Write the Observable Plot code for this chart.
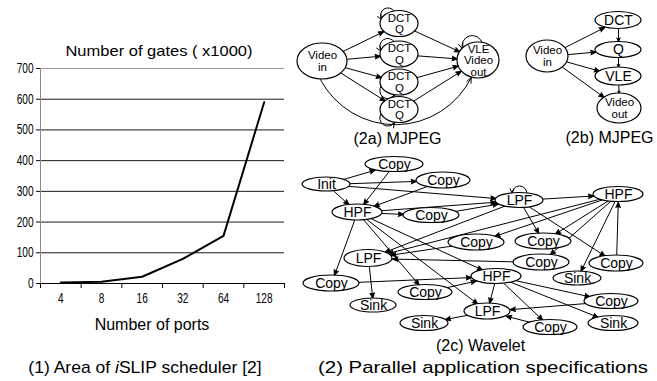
<!DOCTYPE html>
<html>
<head>
<meta charset="utf-8">
<script src="https://cdn.jsdelivr.net/npm/d3@7"></script>
<script src="https://cdn.jsdelivr.net/npm/@observablehq/plot@0.6"></script>
<style>
  html, body { margin: 0; padding: 0; background: #fff; }
  #page { position: relative; width: 657px; height: 381px; overflow: hidden; background: #fff;
          font-family: "Liberation Sans", Arial, Helvetica, sans-serif; color: #000; }
  .lbl { position: absolute; white-space: nowrap; line-height: 1; }
</style>
</head>
<body>
<div id="page"></div>
<script>
// ---------------- Chart (1): area of iSLIP scheduler ----------------
const ports = ["4", "8", "16", "32", "64", "128"];
const gates = [3, 6, 22, 80, 155, 590];           // thousands of gates
const gateTicks = [0, 100, 200, 300, 400, 500, 600, 700];

// ---------------- Diagram (2a) MJPEG ----------------
const mjpegANodes = [
  {id: "vin", label: "Video\nin", x: 322, y: 61, rx: 25, ry: 18},
  {id: "dq1", label: "DCT\nQ", x: 399, y: 23.5, rx: 19, ry: 13},
  {id: "dq2", label: "DCT\nQ", x: 399, y: 54, rx: 19, ry: 13},
  {id: "dq3", label: "DCT\nQ", x: 399, y: 82, rx: 19, ry: 13},
  {id: "dq4", label: "DCT\nQ", x: 399, y: 109.5, rx: 19, ry: 13},
  {id: "vle", label: "VLE\nVideo\nout", x: 478, y: 60, rx: 21, ry: 18}
];
const mjpegAEdges = [
  ["vin", "dq1"], ["vin", "dq2"], ["vin", "dq3"], ["vin", "dq4"],
  ["dq1", "vle"], ["dq2", "vle"], ["dq3", "vle"], ["dq4", "vle"]
];
const mjpegALoops = [["dq1", -105, 200], ["dq2", -105, 195], ["dq3", 165, 105], ["dq4", 165, 105], ["vle", -80, -140]];
const mjpegACurves = [["vin", 95, "vle", 110, -63]];

// ---------------- Diagram (2b) MJPEG ----------------
const mjpegBNodes = [
  {id: "vin", label: "Video\nin", x: 547, y: 56, rx: 21, ry: 16},
  {id: "dct", label: "DCT", x: 618, y: 20, rx: 23, ry: 8.5},
  {id: "q", label: "Q", x: 618, y: 49.5, rx: 23, ry: 8},
  {id: "vle", label: "VLE", x: 618, y: 76, rx: 23, ry: 9},
  {id: "vout", label: "Video\nout", x: 619, y: 108, rx: 22, ry: 15}
];
const mjpegBEdges = [
  ["vin", "dct"], ["vin", "q"], ["vin", "vle"], ["vin", "vout"],
  ["dct", "q"], ["q", "vle"], ["vle", "vout"]
];

// ---------------- Diagram (2c) Wavelet ----------------
const waveletNodes = [
  {id: "init", label: "Init", x: 326, y: 184, rx: 24, ry: 7},
  {id: "c1", label: "Copy", x: 394, y: 164, rx: 29, ry: 7.5},
  {id: "c2", label: "Copy", x: 443, y: 180, rx: 27, ry: 8},
  {id: "hpf1", label: "HPF", x: 357, y: 212, rx: 25, ry: 8},
  {id: "c3", label: "Copy", x: 431, y: 215, rx: 28, ry: 7.5},
  {id: "lpf1", label: "LPF", x: 519, y: 200, rx: 24, ry: 7.5},
  {id: "hpf2", label: "HPF", x: 618, y: 194, rx: 25, ry: 7.5},
  {id: "c4", label: "Copy", x: 476, y: 242, rx: 28, ry: 8},
  {id: "c5", label: "Copy", x: 543, y: 241, rx: 28, ry: 8},
  {id: "lpf2", label: "LPF", x: 368, y: 258, rx: 24, ry: 8.5},
  {id: "c6", label: "Copy", x: 541, y: 262, rx: 28, ry: 8},
  {id: "c7", label: "Copy", x: 616, y: 263, rx: 27, ry: 8},
  {id: "sink1", label: "Sink", x: 577, y: 278, rx: 24, ry: 7},
  {id: "c8", label: "Copy", x: 331, y: 283, rx: 28, ry: 8},
  {id: "hpf3", label: "HPF", x: 496, y: 276, rx: 25, ry: 7.5},
  {id: "c9", label: "Copy", x: 425, y: 292, rx: 27, ry: 7.5},
  {id: "sink2", label: "Sink", x: 373, y: 305, rx: 23, ry: 7},
  {id: "c10", label: "Copy", x: 611, y: 301, rx: 27, ry: 7.5},
  {id: "lpf3", label: "LPF", x: 487, y: 311, rx: 23, ry: 8},
  {id: "sink3", label: "Sink", x: 424, y: 323, rx: 24, ry: 7.5},
  {id: "c11", label: "Copy", x: 550, y: 327, rx: 27, ry: 7.5},
  {id: "sink4", label: "Sink", x: 613, y: 323, rx: 25, ry: 7.5}
];
const waveletEdges = [
  ["init", "c1"], ["init", "c2"], ["init", "lpf1"], ["init", "hpf1"],
  ["c1", "hpf1"], ["c2", "hpf1"],
  ["hpf1", "c3"], ["hpf1", "lpf1"], ["c3", "lpf1"],
  ["hpf1", "c8"], ["hpf1", "c9"], ["hpf1", "hpf3"], ["hpf1", "lpf3"],
  ["lpf1", "hpf2"], ["lpf1", "c5"], ["lpf1", "c7"], ["lpf1", "lpf2"],
  ["hpf2", "c4"], ["hpf2", "c5"], ["hpf2", "c6"], ["hpf2", "sink1"], ["hpf2", "lpf2"],
  ["c7", "hpf2"], ["c4", "lpf2"], ["c6", "lpf2"], ["lpf2", "sink2"],
  ["c8", "hpf3"], ["c9", "hpf3"],
  ["hpf3", "lpf3"], ["hpf3", "c10"], ["hpf3", "sink4"], ["hpf3", "c11"],
  ["c10", "lpf3"], ["c11", "lpf3"], ["lpf3", "sink3"]
];
const waveletLoops = [["lpf1", -72, -108]];

// ---------------- Captions ----------------
const diagramCaptions = [
  {text: "(2a) MJPEG", x: 397, y: 138},
  {text: "(2b) MJPEG", x: 609, y: 137},
  {text: "(2c) Wavelet", x: 480, y: 345}
];

// ================= rendering =================
const FONT = '"Liberation Sans", Arial, Helvetica, sans-serif';
const page = document.getElementById("page");

function addLabel(text, cx, cy, size, sx, html) {
  const d = document.createElement("div");
  d.className = "lbl";
  if (html) d.innerHTML = text; else d.textContent = text;
  d.style.left = cx + "px";
  d.style.top = cy + "px";
  d.style.fontSize = size + "px";
  d.style.transform = `translate(-50%, -50%) scaleX(${sx})`;
  page.appendChild(d);
}

function stretchTexts(svg, selector, sx) {
  svg.querySelectorAll(selector).forEach(t => {
    const tr = t.getAttribute("transform") || "";
    t.setAttribute("transform", tr + ` scale(${sx},1)`);
  });
}

// ---- chart (1)
const chartRows = ports.map((p, i) => ({port: p, slot: i + 0.5, gates: gates[i]}));
const chart = Plot.plot({
  width: 290, height: 345,
  marginLeft: 40, marginRight: 6, marginTop: 68, marginBottom: 62,
  style: {fontFamily: FONT, fontSize: "14px", color: "#000", background: "transparent", overflow: "visible"},
  x: {domain: [0, ports.length]},
  y: {domain: [0, 700]},
  marks: [
    Plot.gridY(gateTicks.filter(v => v > 0 && v < 700), {stroke: "#000", strokeOpacity: 0.9}),
    Plot.ruleY([700], {stroke: "#9a9a9a"}),
    Plot.ruleX([0], {stroke: "#8a8a8a"}),
    Plot.axisY(gateTicks, {tickSize: 4, tickPadding: 3, label: null}),
    Plot.axisX(d3.range(ports.length + 1), {tickSize: 5, tickFormat: () => "", label: null}),
    Plot.axisX(chartRows.map(d => d.slot), {tickSize: 0, tickPadding: 10, tickFormat: d => ports[Math.floor(d)], label: null}),
    Plot.ruleY([0], {stroke: "#000"}),
    Plot.line(chartRows, {x: "slot", y: "gates", stroke: "#000", strokeWidth: 2})
  ]
});
chart.style.position = "absolute";
chart.style.left = "0px";
chart.style.top = "0px";
page.appendChild(chart);
stretchTexts(chart, 'g[aria-label="y-axis tick label"] text, g[aria-label="x-axis tick label"] text', 0.72);

addLabel("Number of gates ( x1000)", 159, 50, 15, 1.1);
addLabel("Number of ports", 152, 325, 16, 1);
addLabel("(1) Area of <i>i</i>SLIP scheduler [2]", 145, 367, 17, 1.03, true);
addLabel("(2) Parallel application specifications", 483, 367, 17, 1.2);

// ---- diagrams (2)
function boundary(n, dx, dy) {
  const t = 1 / Math.hypot(dx / n.rx, dy / n.ry);
  return [n.x + t * dx, n.y + t * dy];
}
function onEllipse(n, deg) {
  const a = deg * Math.PI / 180;
  return [n.x + n.rx * Math.cos(a), n.y + n.ry * Math.sin(a)];
}
const straight = [], loopsPos = [], loopsNeg = [], curves = [];
function addGraph(nodes, edges, loops, curveList) {
  const byId = new Map(nodes.map(n => [n.id, n]));
  for (const [s, t] of edges) {
    const a = byId.get(s), b = byId.get(t);
    const dx = b.x - a.x, dy = b.y - a.y;
    const [x1, y1] = boundary(a, dx, dy);
    const [x2, y2] = boundary(b, -dx, -dy);
    straight.push({x1, y1, x2, y2});
  }
  for (const [id, a1, a2] of loops || []) {
    const n = byId.get(id);
    const [x1, y1] = onEllipse(n, a1), [x2, y2] = onEllipse(n, a2);
    const dx = x2 - x1, dy = y2 - y1;
    const ox = (x1 + x2) / 2 - n.x, oy = (y1 + y2) / 2 - n.y;
    ((dy * ox - dx * oy) > 0 ? loopsPos : loopsNeg).push({x1, y1, x2, y2});
  }
  for (const [s, a1, t, a2, bend] of curveList || []) {
    const [x1, y1] = onEllipse(byId.get(s), a1), [x2, y2] = onEllipse(byId.get(t), a2);
    curves.push({x1, y1, x2, y2, bend});
  }
}
addGraph(mjpegANodes, mjpegAEdges, mjpegALoops, mjpegACurves);
addGraph(mjpegBNodes, mjpegBEdges);
addGraph(waveletNodes, waveletEdges, waveletLoops);
const allNodes = [...mjpegANodes, ...mjpegBNodes, ...waveletNodes];
const multiLine = allNodes.filter(n => n.label.includes("\n"));
const singleLine = allNodes.filter(n => !n.label.includes("\n"));

const ellipseMark = (index, scales) => {
  const g = d3.create("svg:g").attr("aria-label", "nodes");
  const {x, y} = scales;
  for (const n of allNodes) {
    g.append("ellipse")
      .attr("cx", x(n.x)).attr("cy", y(n.y))
      .attr("rx", Math.abs(x(n.x + n.rx) - x(n.x)))
      .attr("ry", Math.abs(y(n.y + n.ry) - y(n.y)))
      .attr("fill", "#fff").attr("stroke", "#000").attr("stroke-width", 1.2);
  }
  return g.node();
};

const arrowOpts = {x1: "x1", y1: "y1", x2: "x2", y2: "y2", stroke: "#000", strokeWidth: 1, headLength: 9, headAngle: 45};
const diagram = Plot.plot({
  width: 367, height: 350, margin: 0,
  axis: null,
  x: {domain: [290, 657]},
  y: {domain: [0, 350], range: [0, 350]},
  style: {fontFamily: FONT, color: "#000", background: "transparent", overflow: "visible"},
  marks: [
    Plot.arrow(straight, {...arrowOpts, fill: "#000"}),
    Plot.arrow(loopsPos, {...arrowOpts, fill: "none", bend: 90}),
    Plot.arrow(loopsNeg, {...arrowOpts, fill: "none", bend: -90}),
    Plot.arrow(curves, {...arrowOpts, fill: "none", bend: curves[0].bend}),
    ellipseMark,
    Plot.text(singleLine, {x: "x", y: "y", text: "label", fontSize: 14, fill: "#000", ariaLabel: "node-label"}),
    Plot.text(multiLine, {x: "x", y: "y", text: "label", fontSize: 11.5, lineHeight: 1.0, fill: "#000", ariaLabel: "node-label"}),
    Plot.text(diagramCaptions, {x: "x", y: "y", text: "text", fontSize: 16, fill: "#000", ariaLabel: "caption"})
  ]
});
diagram.style.position = "absolute";
diagram.style.left = "290px";
diagram.style.top = "0px";
page.appendChild(diagram);
stretchTexts(diagram, 'g[aria-label="node-label"] text', 1.15);
stretchTexts(diagram, 'g[aria-label="caption"] text', 1.05);
</script>
</body>
</html>
